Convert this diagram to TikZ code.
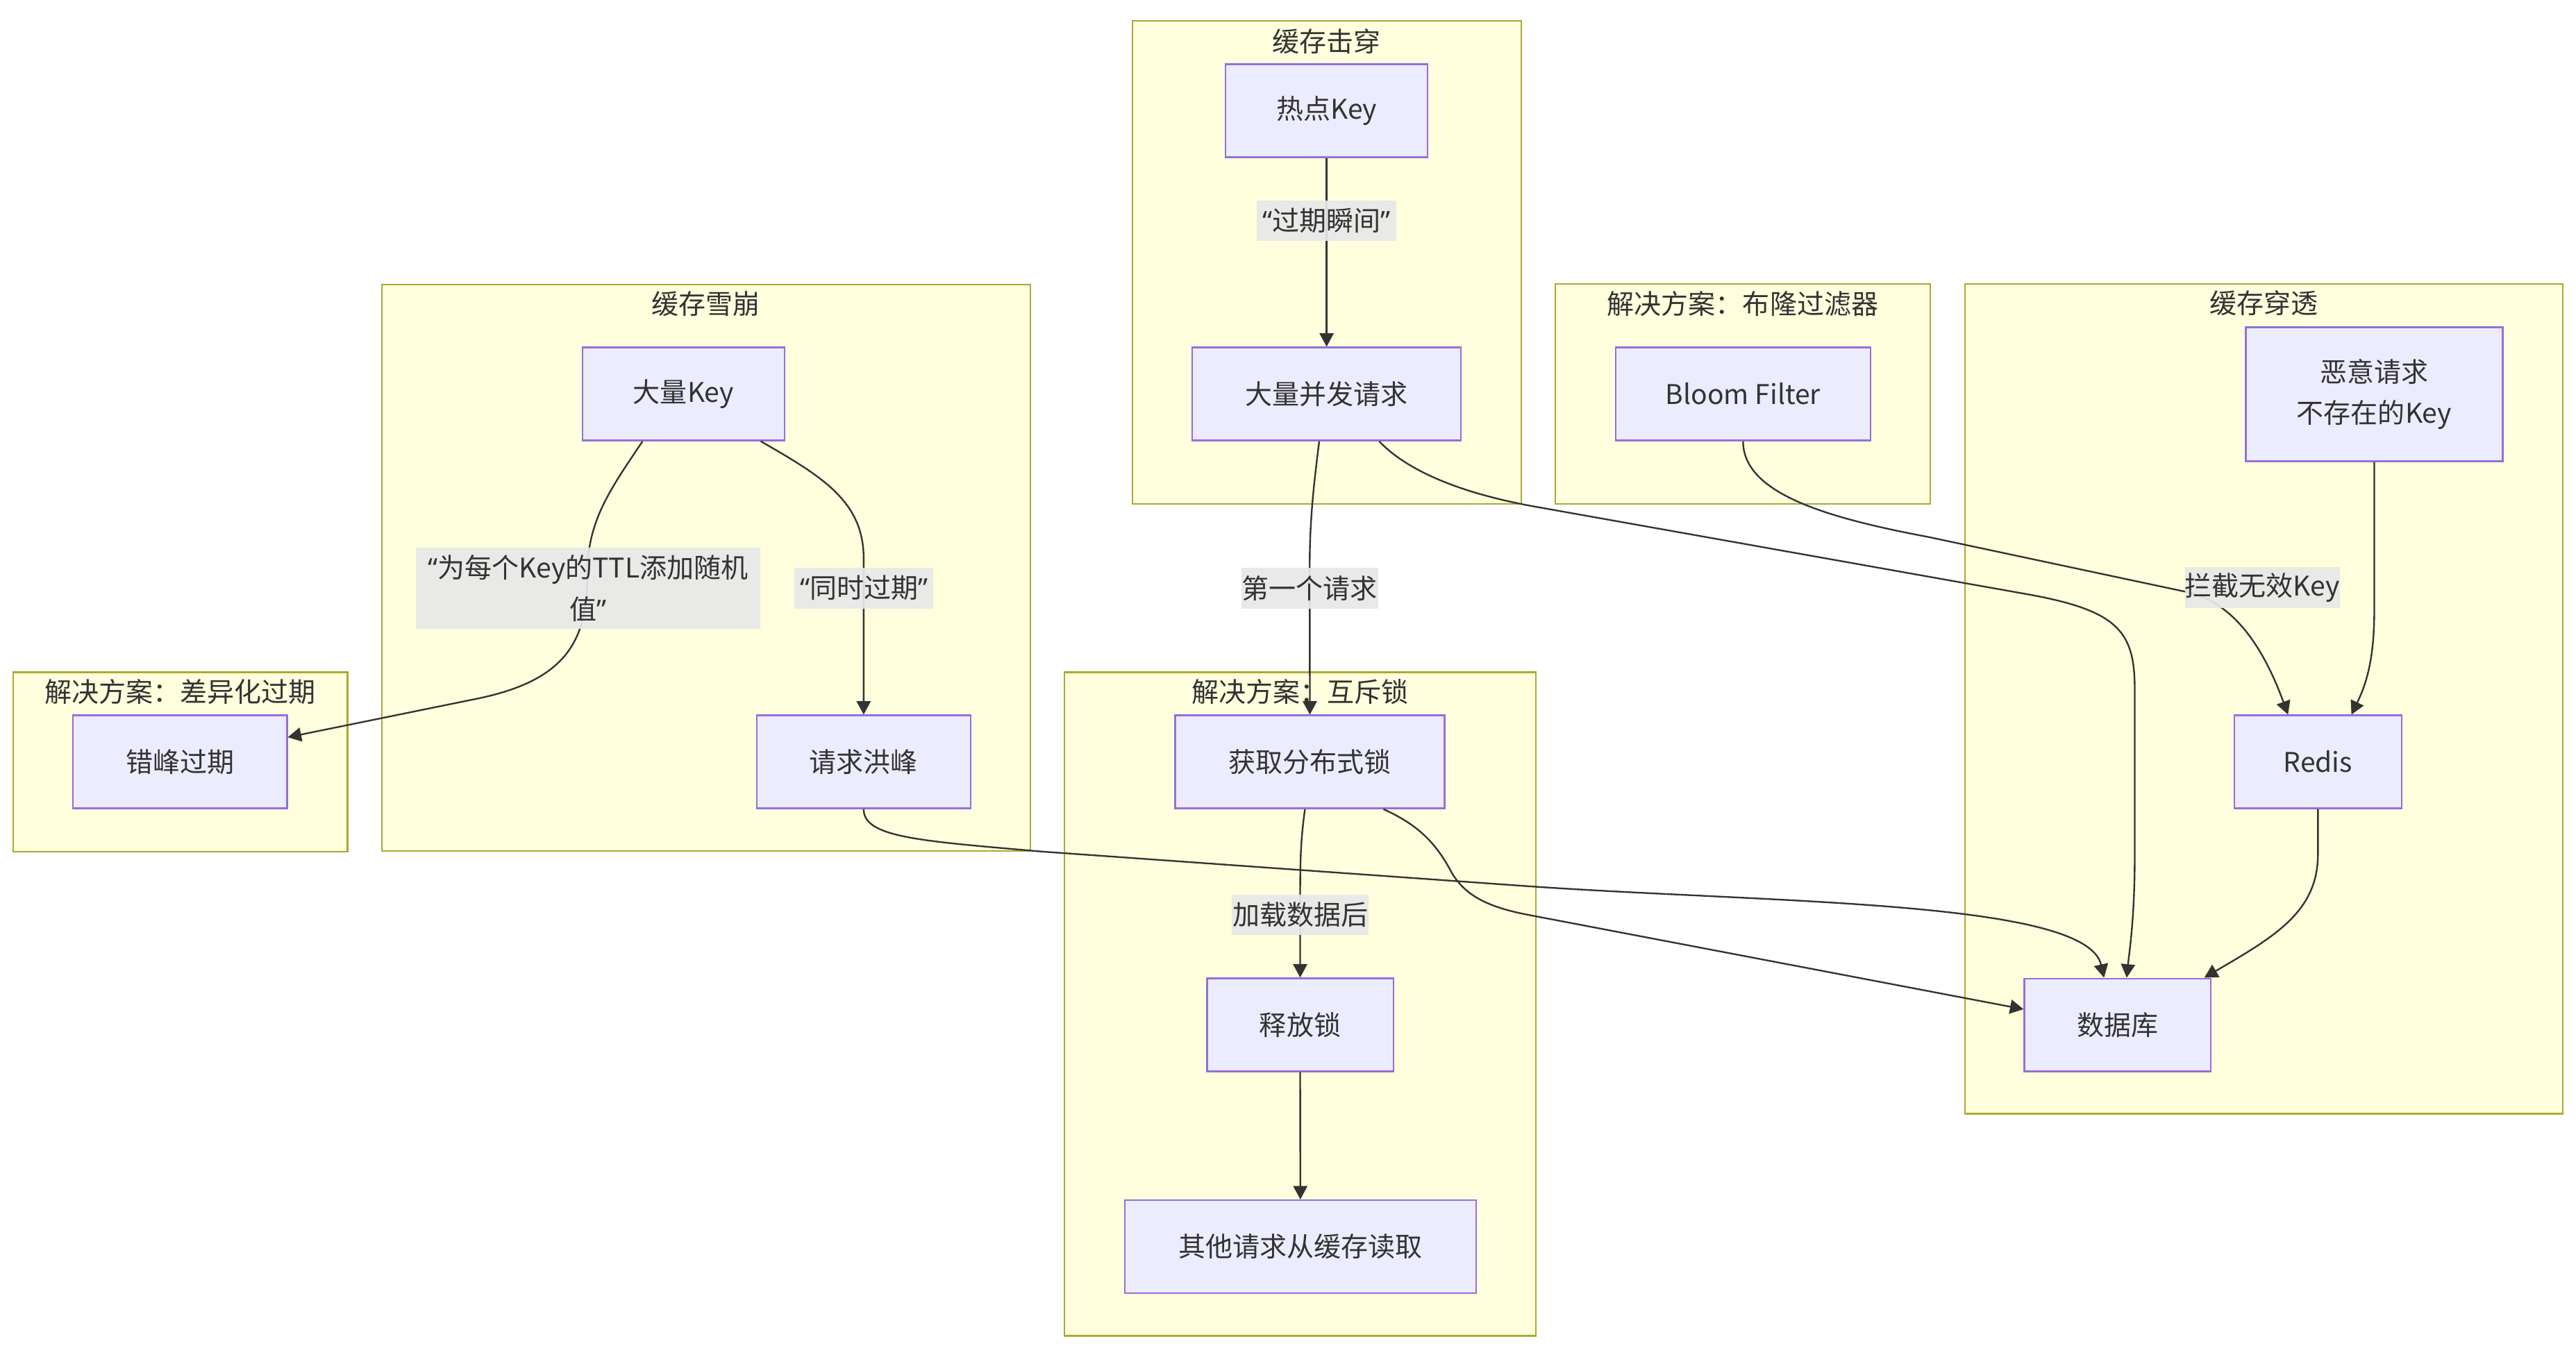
\documentclass[tikz,border=0pt]{standalone}
\usepackage{fontspec}
\setmainfont{Noto Sans CJK SC}
\newfontfamily\qfont{Noto Sans}
\newcommand{\myoq}{{\qfont “}}
\newcommand{\mycq}{{\qfont ”}}
\usetikzlibrary{arrows.meta,calc}
\definecolor{clfill}{HTML}{FFFFDE}
\definecolor{clstroke}{HTML}{AAAA33}
\definecolor{ndfill}{HTML}{ECECFF}
\definecolor{ndstroke}{HTML}{9370DB}
\definecolor{edgec}{HTML}{333333}
\definecolor{txt}{HTML}{333333}
\definecolor{lblbg}{HTML}{E8E8E8}
\begin{document}
\begin{tikzpicture}[x=1pt,y=-1pt,
  font=\fontsize{16.5}{25}\selectfont,
  box/.style={draw=ndstroke, fill=ndfill, line width=1pt, text=txt, inner sep=0pt, align=center, minimum height=56.6pt},
  cluster/.style={draw=clstroke, fill=clfill, line width=1pt},
  ctitle/.style={text=txt, inner sep=0pt, anchor=center},
  lbl/.style={fill=lblbg, fill opacity=0.92, text opacity=1, text=txt, inner sep=0pt, align=center, minimum height=24.8pt},
  edge/.style={draw=edgec, line width=1pt, -{Triangle[length=8.2pt,width=8.6pt]}},
]
\useasboundingbox (0,0) rectangle (1568,826);
\fill[white] (0,0) rectangle (1568,826);

% clusters
\draw[cluster] (689.2,12.7) rectangle (925.9,306.8);
\node[ctitle] (t1) at (807.5,25.2) {缓存击穿};
\draw[cluster] (946.6,172.8) rectangle (1174.9,306.8);
\node[ctitle] (t2) at (1060.8,185) {解决方案：布隆过滤器};
\draw[cluster] (1196,172.9) rectangle (1559.9,678.2);
\node[ctitle] (t3) at (1378,184.7) {缓存穿透};
\draw[cluster] (232.5,173.2) rectangle (627.1,518.2);
\node[ctitle] (t4) at (429.8,185) {缓存雪崩};
\draw[cluster] (8.1,409.3) rectangle (211.5,518.5);
\node[ctitle] (t5) at (109.8,421.4) {解决方案：差异化过期};
\draw[cluster] (648,409.4) rectangle (934.8,813.3);
\node[ctitle] (t6) at (791.4,421.2) {解决方案：互斥锁};

% nodes
\node[box, minimum width=123pt] (hot) at (807.5,67.4) {热点Key};
\node[box, minimum width=163.6pt] (big) at (807.5,239.9) {大量并发请求};
\node[box, minimum width=155.1pt] (bloom) at (1061,239.9) {Bloom Filter};
\node[box, minimum width=156.3pt, minimum height=81.6pt] (evil) at (1445.2,240) {恶意请求\\不存在的Key};
\node[box, minimum width=101.8pt] (redis) at (1410.9,463.9) {Redis};
\node[box, minimum width=113.6pt] (db) at (1289,624.1) {数据库};
\node[box, minimum width=123pt] (bigkey) at (416.1,239.9) {大量Key};
\node[box, minimum width=130.2pt] (flood) at (525.7,463.9) {请求洪峰};
\node[box, minimum width=130.2pt] (stagger) at (109.6,463.9) {错峰过期};
\node[box, minimum width=163.9pt] (lock) at (797.3,463.9) {获取分布式锁};
\node[box, minimum width=113.4pt] (release) at (791.4,624) {释放锁};
\node[box, minimum width=213.9pt] (other) at (791.5,759.1) {其他请求从缓存读取};

% edges
\draw[edge] (hot.south) -- (big.north);
\draw[edge] ([xshift=-4.5pt]big.south) .. controls (799,300) and (797.2,320) .. (797.2,345) -- (lock.north);
\draw[edge] ([xshift=32pt]big.south) .. controls (855,285) and (885,299.7) .. (935,308.6) -- (1235,362) .. controls (1290,372) and (1299.4,385) .. (1299.4,420) -- (1299.4,520) .. controls (1299.4,560) and (1296,580) .. ([xshift=5.5pt]db.north);
\draw[edge] (bloom.south) .. controls (1061,300) and (1110,315) .. (1174,327) -- (1330.8,360.4) .. controls (1360,366.6) and (1378,395) .. ([xshift=-18.2pt]redis.north);
\draw[edge] (evil.south) -- (1445.2,371) .. controls (1445.2,400) and (1441,415) .. ([xshift=20.4pt]redis.north);
\draw[edge] (redis.south) -- (1410.9,520) .. controls (1410.9,555) and (1385,570) .. ([xshift=52.7pt]db.north);
\draw[edge] ([xshift=-25pt]bigkey.south) .. controls (370,300) and (357.5,318) .. (357.5,350) .. controls (357.5,390) and (345,414.3) .. (290,425.5) -- ([yshift=15pt]stagger.east);
\draw[edge] ([xshift=47pt]bigkey.south) .. controls (500,290) and (525.7,305) .. (525.7,340) -- (flood.north);
\draw[edge] (flood.south) .. controls (525.7,510) and (560,512) .. (634,518.5) -- (930,539.6) .. controls (1080,550) and (1270,548) .. ([xshift=-8.3pt]db.north);
\draw[edge] ([xshift=-3pt]lock.south) .. controls (792,510) and (791.4,520) .. (791.4,545) -- (release.north);
\draw[edge] ([xshift=44.8pt]lock.south) .. controls (865,503) and (875,515) .. (884,532) .. controls (892,545) and (905,552.2) .. (930,557) -- ([yshift=9.6pt]db.west);
\draw[edge] (release.south) -- (other.north);

% edge labels
\node[lbl, minimum width=85pt] (l1) at (807.5,134.4) {\myoq 过期瞬间\mycq};
\node[lbl, minimum width=83.4pt] (l2) at (797.2,358.2) {第一个请求};
\node[lbl, minimum width=92.7pt] (l3) at (1377.1,357.9) {拦截无效Key};
\node[lbl, minimum width=209.4pt, minimum height=49.7pt] (l4) at (357.9,358.2) {\myoq 为每个Key的TTL添加随机\\值\mycq};
\node[lbl, minimum width=84.5pt] (l5) at (525.9,358.1) {\myoq 同时过期\mycq};
\node[lbl, minimum width=83.4pt] (l6) at (791.5,557.1) {加载数据后};
\end{tikzpicture}
\end{document}
